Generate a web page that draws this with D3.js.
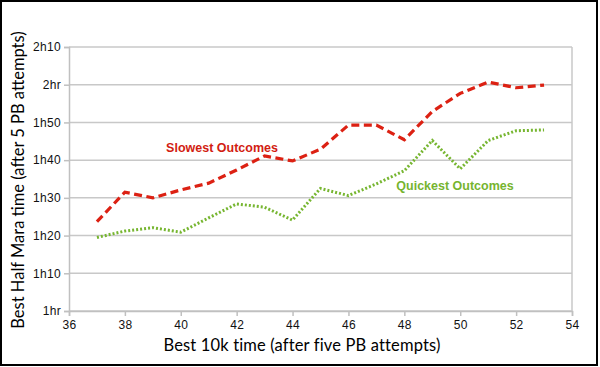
<!DOCTYPE html>
<html><head><meta charset="utf-8">
<script src="https://cdn.jsdelivr.net/npm/d3@7"></script>
<style>body{margin:0;background:#fff}svg{display:block}</style>
</head><body>
<script>
const tenK = [37,38,39,40,41,42,43,44,45,46,47,48,49,50,51,52,53];
// half marathon times in minutes
const slowest = [83.7,91.5,90,92.1,93.9,97.4,101.1,99.8,102.9,109.3,109.3,105.4,112.9,117.7,120.7,119.2,119.9];
const quickest = [79.5,81.2,82.1,80.9,84.7,88.4,87.5,84.1,92.5,90.6,93.7,97.2,105.2,97.7,105.2,107.8,108];
const xTicks = [36,38,40,42,44,46,48,50,52,54];
const yTicks = [60,70,80,90,100,110,120,130];
const yTickLabels = ["1hr","1h10","1h20","1h30","1h40","1h50","2hr","2h10"];

const W=600,H=367;
const svg=d3.select("body").append("svg").attr("width",W).attr("height",H);
svg.append("rect").attr("x",1).attr("y",1).attr("width",596).attr("height",364)
  .attr("fill","#fff").attr("stroke","#000").attr("stroke-width",2);

const x=d3.scaleLinear().domain([36,54]).range([69,572]);
const y=d3.scaleLinear().domain([60,130]).range([311,47]);

// gridlines
svg.append("g").selectAll("line").data(yTicks).join("line")
  .attr("x1",x(36)).attr("x2",x(54)).attr("y1",d=>y(d)).attr("y2",d=>y(d))
  .attr("stroke","#c8c8c8").attr("stroke-width",1.5);
svg.append("line").attr("x1",x(54)).attr("x2",x(54)).attr("y1",y(130)).attr("y2",y(60))
  .attr("stroke","#c8c8c8").attr("stroke-width",1.5);

const tickFont="'Liberation Sans',Arial,sans-serif";
const yAxis=svg.append("g").attr("transform",`translate(${x(36)},0)`)
  .call(d3.axisLeft(y).tickValues(yTicks).tickFormat((d,i)=>yTickLabels[i]).tickSize(5).tickPadding(3));
const xAxis=svg.append("g").attr("transform",`translate(0,${y(60)})`)
  .call(d3.axisBottom(x).tickValues(xTicks).tickFormat(d3.format("d")).tickSize(5).tickPadding(4));
[yAxis,xAxis].forEach(a=>{
  a.select(".domain").attr("stroke","#c0c0c0").attr("stroke-width",1.5);
  a.selectAll(".tick line").attr("stroke","#c0c0c0").attr("stroke-width",1.5);
  a.selectAll("text").attr("fill","#111").style("font-family",tickFont).style("font-size","12px")
    .style("letter-spacing","0.3px");
});

const line=d3.line().x((d,i)=>x(tenK[i])).y(d=>y(d));
svg.append("path").datum(slowest).attr("d",line).attr("fill","none")
  .attr("stroke","#dc2113").attr("stroke-width",3.2).attr("stroke-dasharray","8,4.5");
svg.append("path").datum(quickest).attr("d",line).attr("fill","none")
  .attr("stroke","#77b631").attr("stroke-width",3).attr("stroke-dasharray","2,2");

svg.append("text").attr("x",222).attr("y",152).attr("text-anchor","middle")
  .style("font-family",tickFont).style("font-weight","bold").style("font-size","12.5px")
  .attr("fill","#d21d12").text("Slowest Outcomes");
svg.append("text").attr("x",455).attr("y",190).attr("text-anchor","middle")
  .style("font-family",tickFont).style("font-weight","bold").style("font-size","12.5px")
  .attr("fill","#76b42f").text("Quickest Outcomes");

const titleFont="Lato,'Open Sans',sans-serif";
svg.append("text").attr("x",302).attr("y",351).attr("text-anchor","middle")
  .style("font-family",titleFont).style("font-size","16.5px").style("letter-spacing","0.15px").attr("fill","#000")
  .text("Best 10k time (after five PB attempts)");
svg.append("text").attr("transform","translate(24,180) rotate(-90)").attr("text-anchor","middle")
  .style("font-family",titleFont).style("font-size","16.5px").attr("fill","#000")
  .text("Best Half Mara time (after 5 PB attempts)");
</script>
</body></html>
